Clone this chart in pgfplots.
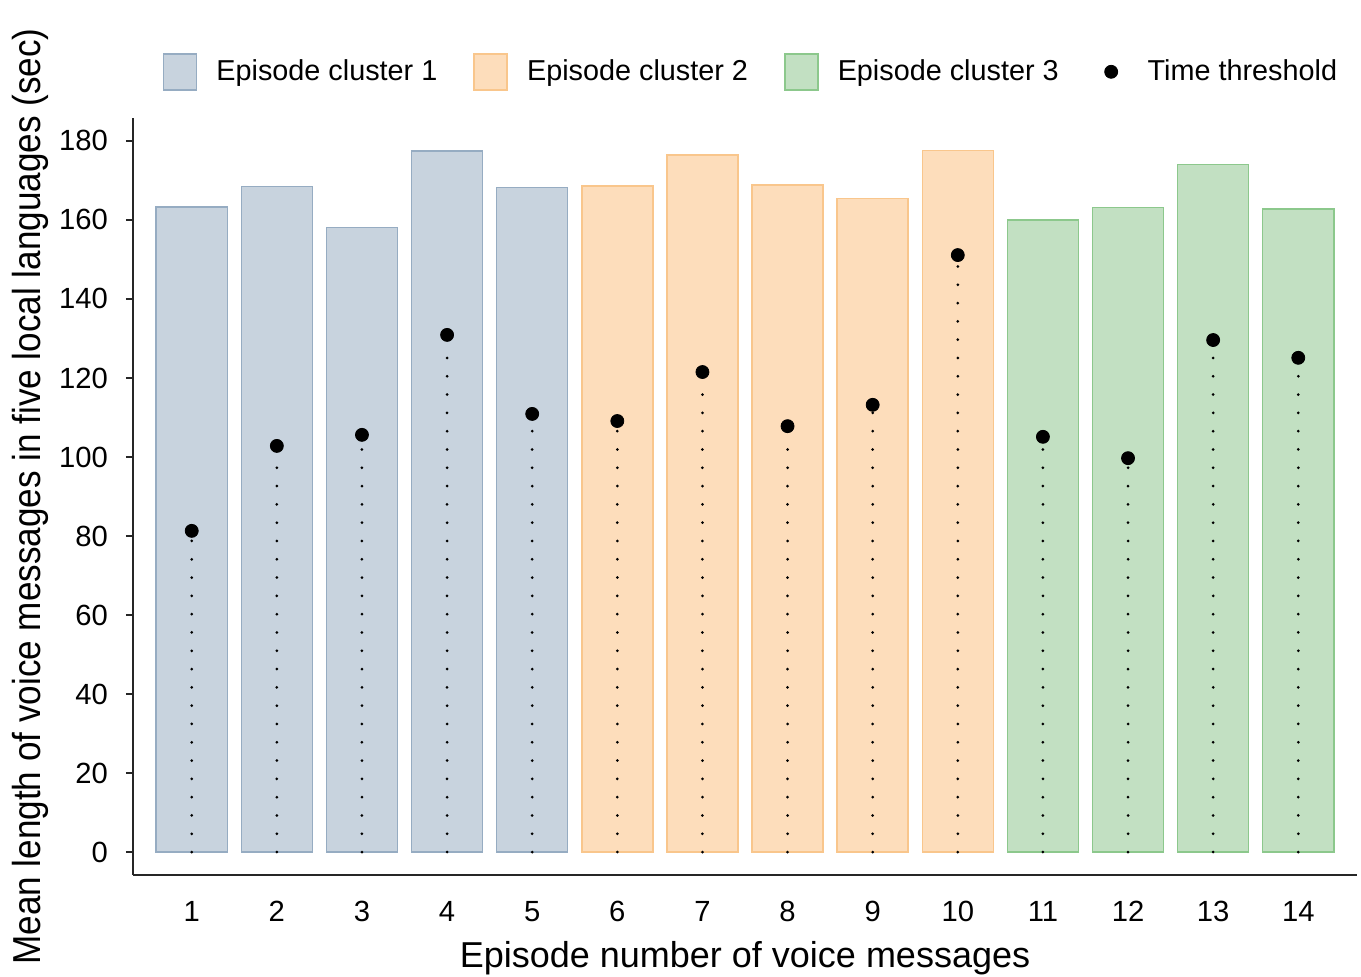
\documentclass[border=0pt]{standalone}
\usepackage{fontspec}
\setmainfont{Liberation Sans}
\usepackage{graphicx}
\usepackage{pgfplots}
\pgfplotsset{compat=1.18}
\definecolor{cAfill}{RGB}{200,211,222}
\definecolor{cAedge}{RGB}{150,172,194}
\definecolor{cBfill}{RGB}{253,221,187}
\definecolor{cBedge}{RGB}{249,198,140}
\definecolor{cCfill}{RGB}{194,224,194}
\definecolor{cCedge}{RGB}{140,200,140}
\pgfplotsset{
  barleg/.style={legend image code/.code={\draw[##1, line width=0.75pt] (0pt,-9pt) rectangle (16.5pt,9pt); \path[draw=none, fill=none] (16.5pt,0) -- (26.5pt,0);}},
  dotleg/.style={legend image code/.code={\fill[black] (8.25pt,0) circle (3.25pt); \path[draw=none, fill=none] (0,0) -- (26.5pt,0);}},
}
\begin{document}
\begin{tikzpicture}
\path[use as bounding box] (-66.5pt,-51pt) rectangle (614pt,437.5pt);
\begin{axis}[
  scale only axis,
  width=612pt, height=378.5pt,
  xmin=0.31, xmax=14.69,
  ymin=-5.8, ymax=185.8,
  axis x line*=bottom, axis y line*=left,
  axis line style={-, line width=1pt, black!85},
  xtick={1,...,14},
  ytick={0,20,...,180},
  tick align=outside,
  major tick length=3.5pt,
  xtick style={draw=none},
  ytick style={line width=0.8pt, black!85},
  /pgf/number format/assume math mode=true,
  tick label style={font=\fontsize{14.6}{17}\selectfont},
  yticklabel style={anchor=east, xshift=-5.5pt},
  xticklabel style={anchor=base, yshift=-20pt},
  xlabel={Episode number of voice messages},
  xlabel style={font=\fontsize{18}{21}\selectfont, at={(axis description cs:0.5,0)}, anchor=base, yshift=-46.5pt},
  ylabel={\scalebox{0.9}[1]{Mean length of voice messages in five local languages (sec)}},
  ylabel style={font=\fontsize{19.5}{22}\selectfont, at={(axis description cs:0,0.5)}, anchor=center, yshift=51.5pt},
  legend columns=4,
  legend style={draw=none, fill=none, at={(axis description cs:0.504,1.061)}, anchor=center,
    font=\fontsize{14.4}{17}\selectfont,
    /tikz/every even column/.append style={column sep=18pt},
    nodes={inner sep=0pt}},
  legend cell align=left,
]
\addplot[ybar, bar width=0.835, bar shift=0pt, fill=cAfill, draw=cAedge, line width=0.75pt, barleg]
  coordinates {(1,163.3) (2,168.4) (3,158.1) (4,177.4) (5,168.2)};
\addlegendentry{Episode cluster 1}
\addplot[ybar, bar width=0.835, bar shift=0pt, fill=cBfill, draw=cBedge, line width=0.75pt, barleg]
  coordinates {(6,168.6) (7,176.4) (8,168.9) (9,165.4) (10,177.6)};
\addlegendentry{Episode cluster 2}
\addplot[ybar, bar width=0.835, bar shift=0pt, fill=cCfill, draw=cCedge, line width=0.75pt, barleg]
  coordinates {(11,160.0) (12,163.1) (13,174.0) (14,162.8)};
\addlegendentry{Episode cluster 3}
\addplot[ycomb, no marks, black, line width=1.5pt, line cap=round, dash pattern=on 0pt off 9.15pt, forget plot]
  coordinates {(1,81.3) (2,102.8) (3,105.6) (4,130.9) (5,110.9) (6,109.1) (7,121.5) (8,107.8) (9,113.2) (10,151.1) (11,105.1) (12,99.7) (13,129.6) (14,125.1)};
\addplot[only marks, mark=*, mark size=3.25pt, black, dotleg]
  coordinates {(1,81.3) (2,102.8) (3,105.6) (4,130.9) (5,110.9) (6,109.1) (7,121.5) (8,107.8) (9,113.2) (10,151.1) (11,105.1) (12,99.7) (13,129.6) (14,125.1)};
\addlegendentry{Time threshold}
\end{axis}
\end{tikzpicture}
\end{document}
